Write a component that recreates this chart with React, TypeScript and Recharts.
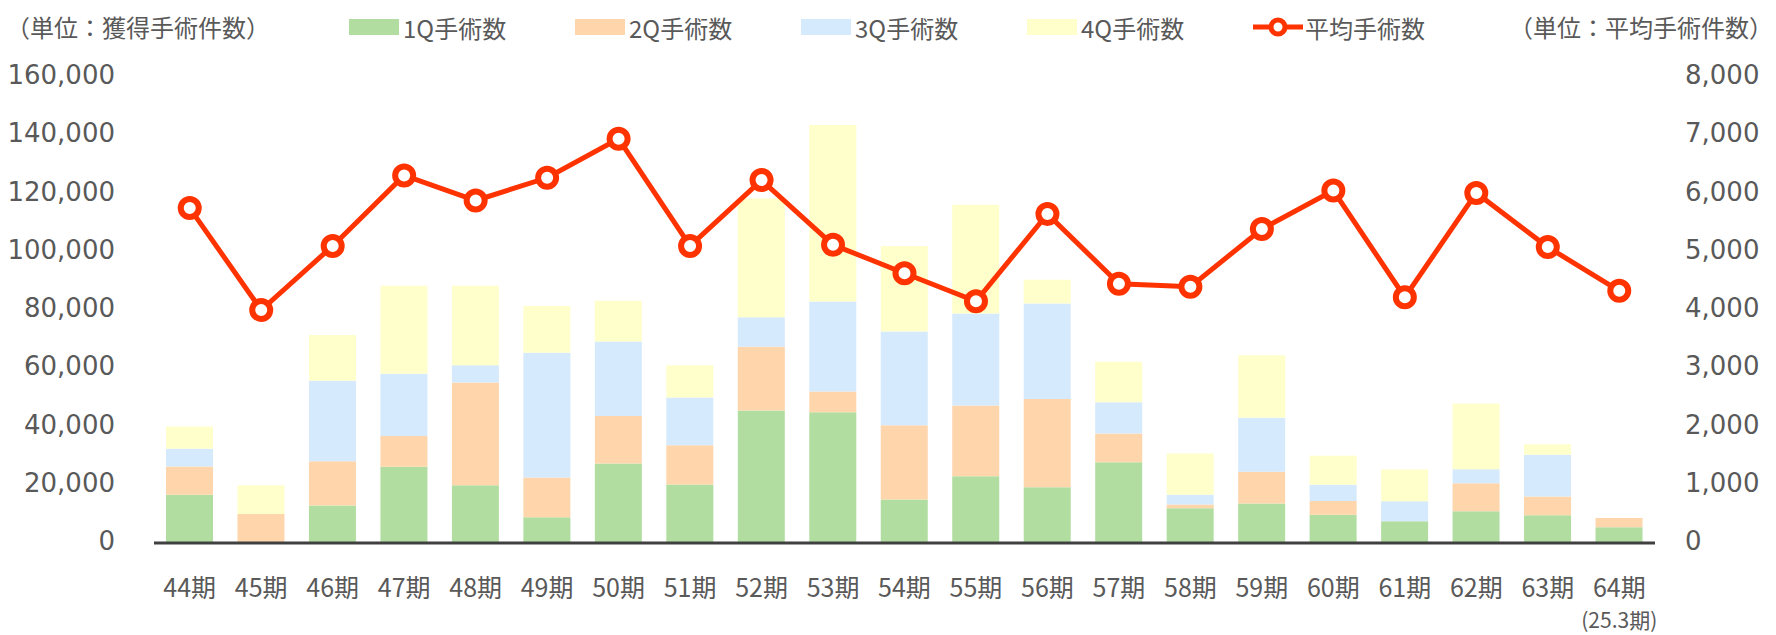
import { ComposedChart, Bar, Line, XAxis, YAxis } from 'recharts'

const periods = ['44期', '45期', '46期', '47期', '48期', '49期', '50期', '51期', '52期', '53期', '54期', '55期', '56期', '57期', '58期', '59期', '60期', '61期', '62期', '63期', '64期']
const periodNotes = ['', '', '', '', '', '', '', '', '', '', '', '', '', '', '', '', '', '', '', '', '(25.3期)']

// quarterly surgery counts (left axis)
const q1 = [16600, 0, 12900, 26200, 19800, 8800, 27300, 20100, 45500, 44900, 14900, 22900, 19100, 27700, 11900, 13600, 9700, 7500, 10900, 9500, 5400]
const q2 = [9700, 10000, 15200, 10500, 35300, 13700, 16300, 13500, 21900, 7100, 25500, 24300, 30300, 9900, 1300, 10900, 4700, 0, 9600, 6500, 3200]
const q3 = [6100, 0, 27600, 21400, 5900, 42800, 25600, 16400, 10100, 30900, 32200, 31600, 32800, 10700, 3400, 18500, 5600, 6800, 4800, 14300, 0]
const q4 = [7600, 9800, 15700, 30200, 27300, 16100, 14000, 11000, 40800, 60600, 29400, 37300, 8200, 13900, 14100, 21500, 10000, 10900, 22600, 3600, 0]
// average surgery count (right axis)
const avg = [5750, 4000, 5100, 6310, 5880, 6270, 6940, 5100, 6230, 5120, 4630, 4150, 5650, 4450, 4400, 5390, 6050, 4220, 6010, 5080, 4330]

const leftTicks = [0, 20000, 40000, 60000, 80000, 100000, 120000, 140000, 160000]
const rightTicks = [0, 1000, 2000, 3000, 4000, 5000, 6000, 7000, 8000]

const barSeries = [
  { key: 'q1', name: '1Q手術数', color: '#B1DEA0' },
  { key: 'q2', name: '2Q手術数', color: '#FFD5AC' },
  { key: 'q3', name: '3Q手術数', color: '#D6EAFE' },
  { key: 'q4', name: '4Q手術数', color: '#FFFFCC' },
]
const lineName = '平均手術数'
const LINE_COLOR = '#FF3300'
const TEXT = '#595959'
const CJK = '"Noto Sans CJK JP", "Noto Sans", sans-serif'
const NUM = '"DejaVu Sans", Verdana, sans-serif'

const data = periods.map((p, i) => ({
  period: p,
  q1: q1[i],
  q2: q2[i],
  q3: q3[i],
  q4: q4[i],
  avg: avg[i],
}))

const fmt = (v: number) => v.toLocaleString('en-US')

const XTick = (props: any) => {
  const { x, y, payload } = props
  const note = periodNotes[payload.index]
  return (
    <g>
      <text x={x} y={y + 54} textAnchor="middle" fill={TEXT} fontSize={25} fontFamily={CJK}>
        {payload.value}
      </text>
      {note && (
        <text x={x} y={y + 85} textAnchor="middle" fill={TEXT} fontSize={21} fontFamily={CJK}>
          {note}
        </text>
      )}
    </g>
  )
}

function LegendRow() {
  return (
    <div style={{ position: 'absolute', left: 0, top: 0, width: 1776, height: 52, fontFamily: CJK, color: TEXT, fontSize: 24 }}>
      <div style={{ position: 'absolute', left: 6, top: 0, height: 52, display: 'flex', alignItems: 'center' }}>
        （単位：獲得手術件数）
      </div>
      <div style={{ position: 'absolute', left: 349, top: 0, height: 54, display: 'flex', alignItems: 'center' }}>
        {barSeries.map((s) => (
          <div key={s.key} style={{ width: 226, display: 'flex', alignItems: 'center' }}>
            <span style={{ width: 50, height: 16, background: s.color, marginRight: 4 }} />
            <span>{s.name}</span>
          </div>
        ))}
        <div style={{ display: 'flex', alignItems: 'center' }}>
          <svg width={50} height={24} style={{ marginRight: 2 }}>
            <line x1={0} y1={12} x2={50} y2={12} stroke={LINE_COLOR} strokeWidth={5} />
            <circle cx={25} cy={12} r={7} fill="#fff" stroke={LINE_COLOR} strokeWidth={5} />
          </svg>
          <span>{lineName}</span>
        </div>
      </div>
      <div style={{ position: 'absolute', right: 3, top: 0, height: 52, display: 'flex', alignItems: 'center' }}>
        （単位：平均手術件数）
      </div>
    </div>
  )
}

export default function App() {
  return (
    <div style={{ position: 'absolute', left: 0, top: 0, width: 1776, height: 635, background: '#fff' }}>
      <ComposedChart width={1776} height={635} data={data} margin={{ top: 77, right: 0, bottom: 0, left: 0 }}>
        <XAxis
          dataKey="period"
          height={92}
          interval={0}
          tickLine={false}
          tickSize={0}
          tickMargin={0}
          axisLine={{ stroke: '#404040', strokeWidth: 3 }}
          tick={<XTick />}
        />
        <YAxis
          yAxisId="left"
          orientation="left"
          width={154}
          domain={[0, 160000]}
          ticks={leftTicks}
          tickFormatter={fmt}
          axisLine={false}
          tickLine={false}
          tickSize={0}
          tickMargin={39}
          tick={{ fill: TEXT, fontSize: 26, fontFamily: NUM, dy: -2 }}
        />
        <YAxis
          yAxisId="right"
          orientation="right"
          width={121}
          domain={[0, 8000]}
          ticks={rightTicks}
          tickFormatter={fmt}
          axisLine={false}
          tickLine={false}
          tickSize={0}
          tickMargin={30}
          tick={{ fill: TEXT, fontSize: 26, fontFamily: NUM, dy: -2 }}
        />
        {barSeries.map((s) => (
          <Bar
            key={s.key}
            yAxisId="left"
            dataKey={s.key}
            name={s.name}
            stackId="q"
            fill={s.color}
            barSize={47}
            isAnimationActive={false}
          />
        ))}
        <Line
          yAxisId="right"
          dataKey="avg"
          name={lineName}
          stroke={LINE_COLOR}
          strokeWidth={5}
          dot={{ r: 9, fill: '#fff', stroke: LINE_COLOR, strokeWidth: 6 }}
          activeDot={false}
          isAnimationActive={false}
        />
      </ComposedChart>
      <LegendRow />
    </div>
  )
}
